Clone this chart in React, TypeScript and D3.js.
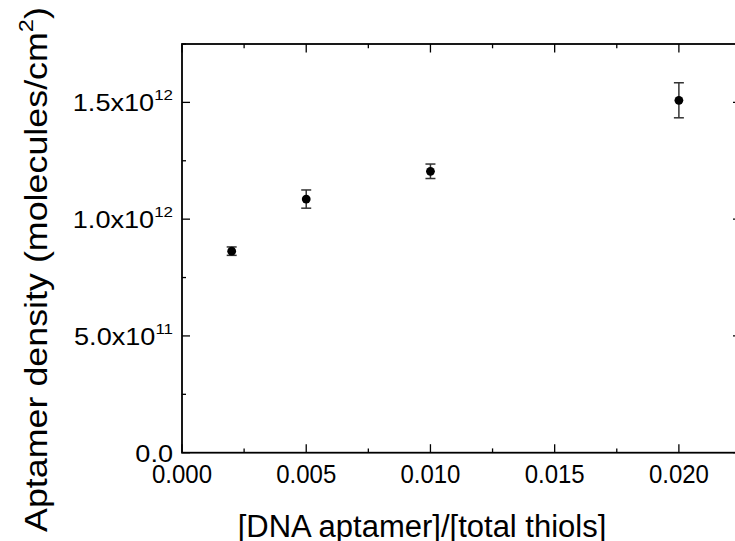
import React from "react";
import * as d3 from "d3";

const xValues = [0.002, 0.005, 0.01, 0.02];
const yValues = [0.863e12, 1.086e12, 1.205e12, 1.509e12];
const yErrors = [0.018e12, 0.039e12, 0.031e12, 0.075e12];
const xTicks = [0, 0.005, 0.01, 0.015, 0.02];
const xTickLabels = ["0.000", "0.005", "0.010", "0.015", "0.020"];
const yTicks = [0, 0.5e12, 1.0e12, 1.5e12];
const yTickMantissa = ["0.0", "5.0x10", "1.0x10", "1.5x10"];
const yTickExponent = ["", "11", "12", "12"];
const xTitle = "[DNA aptamer]/[total thiols]";
const yTitle = "Aptamer density (molecules/cm";

const W = 735;
const H = 541;
const left = 182;
const right = 741;
const top = 44;
const bottom = 452.7;

export default function App() {
  const x = d3.scaleLinear().domain([0, 0.0225]).range([left, right]);
  const y = d3.scaleLinear().domain([0, 1.75e12]).range([bottom, top]);
  const xMinor = d3.range(0, 0.0226, 0.0025);
  const yMinor = d3.range(0, 1.751e12, 0.25e12);
  const font = "'Liberation Sans', Arial, sans-serif";
  return (
    <svg width={W} height={H} style={{ position: "absolute", left: 0, top: 0 }} fontFamily={font}>
      <rect width={W} height={H} fill="#fff" />
      {xMinor.map((v, i) => {
        const major = i % 2 === 0;
        const len = major ? 8.5 : 4.3;
        return (
          <g key={"xt" + i} stroke="#000" strokeWidth={1.3}>
            <line x1={x(v)} x2={x(v)} y1={bottom} y2={bottom - len} />
            <line x1={x(v)} x2={x(v)} y1={top} y2={top + len} />
          </g>
        );
      })}
      {yMinor.map((v, i) => {
        const major = i % 2 === 0;
        const len = major ? 8 : 4;
        return (
          <g key={"yt" + i} stroke="#000" strokeWidth={1.3}>
            <line x1={left} x2={left + len} y1={y(v)} y2={y(v)} />
            <line x1={right} x2={right - len} y1={y(v)} y2={y(v)} />
          </g>
        );
      })}
      <rect x={left} y={top} width={right - left} height={bottom - top} fill="none" stroke="#000" strokeWidth={1.8} />
      {xTicks.map((v, i) => (
        <text key={"xl" + i} transform={`translate(${x(v)},483) scale(1,1.05)`} textAnchor="middle" fontSize={24} fill="#000">
          {xTickLabels[i]}
        </text>
      ))}
      {yTicks.map((v, i) => (
        <text key={"yl" + i} transform={`translate(173,${y(v) + 9}) scale(1.13,1)`} textAnchor="end" fontSize={24} fill="#000">
          {yTickMantissa[i]}
          {yTickExponent[i] ? (
            <tspan dy={-11} fontSize={15}>{yTickExponent[i]}</tspan>
          ) : null}
        </text>
      ))}
      {xValues.map((v, i) => {
        const cx = x(v);
        const y1 = y(yValues[i] - yErrors[i]);
        const y2 = y(yValues[i] + yErrors[i]);
        return (
          <g key={"e" + i} stroke="#333" strokeWidth={1.5}>
            <line x1={cx} x2={cx} y1={y1} y2={y2} />
            <line x1={cx - 5} x2={cx + 5} y1={y1} y2={y1} />
            <line x1={cx - 5} x2={cx + 5} y1={y2} y2={y2} />
          </g>
        );
      })}
      {xValues.map((v, i) => (
        <circle key={"p" + i} cx={x(v)} cy={y(yValues[i])} r={4.4} fill="#000" />
      ))}
      <text x={422} y={537} textAnchor="middle" fontSize={31} fill="#000">
        {xTitle}
      </text>
      <text transform="translate(47,532) rotate(-90) scale(1.12,1)" textAnchor="start" fontSize={32} fill="#000">
        {yTitle}
        <tspan dy={-14} fontSize={21}>2</tspan>
        <tspan dy={14}>)</tspan>
      </text>
    </svg>
  );
}
